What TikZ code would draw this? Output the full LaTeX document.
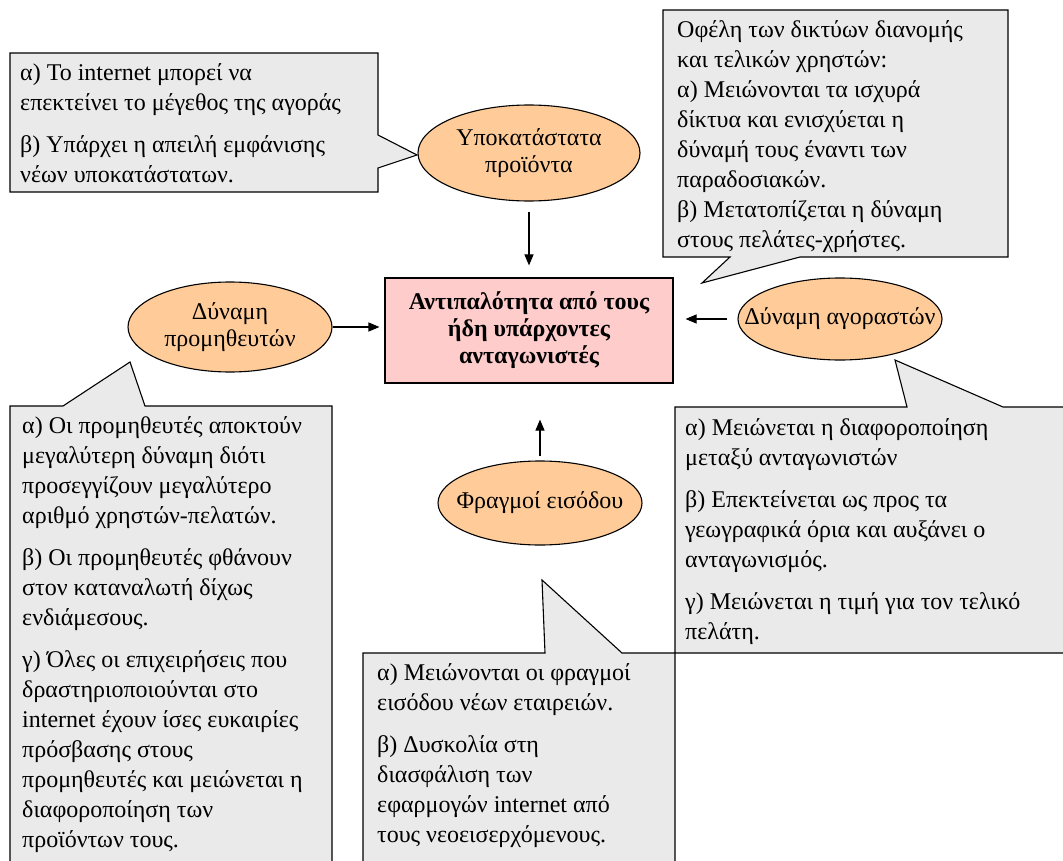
\documentclass[tikz,border=0pt]{standalone}
\usepackage{fontspec}
\setmainfont{Liberation Serif}
\usetikzlibrary{arrows.meta,shapes.geometric}
\definecolor{calloutgray}{HTML}{EAEAEA}
\definecolor{peach}{HTML}{FFCC99}
\definecolor{rosebox}{HTML}{FFCCCC}
\begin{document}
\begin{tikzpicture}[x=1pt,y=-1pt,
  outline/.style={draw=black,line width=1.1pt,line join=miter},
  callout/.style={outline,fill=calloutgray},
  force/.style={ellipse,outline,fill=peach,inner sep=0pt},
  forcetext/.style={font=\fontsize{24}{27}\selectfont,align=center,inner sep=0pt},
  note/.style={anchor=north west,inner sep=0pt,align=left,font=\fontsize{24}{30}\selectfont},
  flow/.style={-{Triangle[length=11pt,width=9pt]},line width=1.1pt,shorten <=10pt,shorten >=12pt},
]
\useasboundingbox (0,0) rectangle (1063,861);
\clip (0,0) rectangle (1063,861);

% callout outlines with their pointers
\path[callout] (10,53) -- (378,53) -- (378,135) -- (417,155) -- (378,168)
  -- (378,192) -- (10,192) -- cycle;
\path[callout] (663,10) -- (1008,10) -- (1008,257) -- (800,257) -- (702,283)
  -- (730,257) -- (663,257) -- cycle;
\path[callout] (10,406) -- (63,406) -- (130,362) -- (145,406) -- (332,406)
  -- (332,875) -- (10,875) -- cycle;
\path[callout] (675,407) -- (907,407) -- (895,360) -- (1003,407) -- (1075,407)
  -- (1075,653) -- (675,653) -- cycle;
\path[callout] (363,653) -- (545,653) -- (542,580) -- (622,653) -- (675,653)
  -- (675,875) -- (363,875) -- cycle;

% callout texts
\node[note] (noteA) at (20,59.5) {\strut α) Το internet μπορεί να\\
επεκτείνει το μέγεθος της αγοράς\\[12pt]
β) Υπάρχει η απειλή εμφάνισης\\
νέων υποκατάστατων.};

\node[note] (noteB) at (677,16.5) {\strut Οφέλη των δικτύων διανομής\\
και τελικών χρηστών:\\
α) Μειώνονται τα ισχυρά\\
δίκτυα και ενισχύεται η\\
δύναμή τους έναντι των\\
παραδοσιακών.\\
β) Μετατοπίζεται η δύναμη\\
στους πελάτες-χρήστες.};

\node[note] (noteC) at (22,412.5) {\strut α) Οι προμηθευτές αποκτούν\\
μεγαλύτερη δύναμη διότι\\
προσεγγίζουν μεγαλύτερο\\
αριθμό χρηστών-πελατών.\\[12pt]
β) Οι προμηθευτές φθάνουν\\
στον καταναλωτή δίχως\\
ενδιάμεσους.\\[12pt]
γ) Όλες οι επιχειρήσεις που\\
δραστηριοποιούνται στο\\
internet έχουν ίσες ευκαιρίες\\
πρόσβασης στους\\
προμηθευτές και μειώνεται η\\
διαφοροποίηση των\\
προϊόντων τους.};

\node[note] (noteD) at (685,414.5) {\strut α) Μειώνεται η διαφοροποίηση\\
μεταξύ ανταγωνιστών\\[12pt]
β) Επεκτείνεται ως προς τα\\
γεωγραφικά όρια και αυξάνει ο\\
ανταγωνισμός.\\[12pt]
γ) Μειώνεται η τιμή για τον τελικό\\
πελάτη.};

\node[note] (noteE) at (377,659.5) {\strut α) Μειώνονται οι φραγμοί\\
εισόδου νέων εταιρειών.\\[12pt]
β) Δυσκολία στη\\
διασφάλιση των\\
εφαρμογών internet από\\
τους νεοεισερχόμενους.};

% central box
\node[outline,fill=rosebox,minimum width=288pt,minimum height=105pt,inner sep=0pt,
  align=center,font=\bfseries\fontsize{24}{27}\selectfont] (rival) at (529,330.5)
  {Αντιπαλότητα από τους\\ ήδη υπάρχοντες\\ ανταγωνιστές};

% the four forces
\node[force,minimum width=222pt,minimum height=96pt] (sub) at (529,153) {};
\node[forcetext] (subT) at (sub) {Υποκατάστατα\\προϊόντα};

\node[force,minimum width=204pt,minimum height=90pt] (sup) at (230,327) {};
\node[forcetext] (supT) at (sup) {Δύναμη\\προμηθευτών};

\node[force,minimum width=204pt,minimum height=82pt] (buy) at (840,319) {};
\node[forcetext] (buyT) at (buy) {Δύναμη αγοραστών};

\node[force,minimum width=204pt,minimum height=84pt] (bar) at (540,503) {};
\node[forcetext] (barT) at (bar) {Φραγμοί εισόδου};

% arrows into the central box
\draw[flow] (sub.south) -- (sub.south |- rival.north);
\draw[flow,shorten <=0pt,shorten >=5pt] (sup.east) -- (sup.east -| rival.west);
\draw[flow] (buy.west) -- (buy.west -| rival.east);
\draw[flow,shorten >=36pt,shorten <=4pt] (bar.north) -- (bar.north |- rival.south);
\end{tikzpicture}
\end{document}
